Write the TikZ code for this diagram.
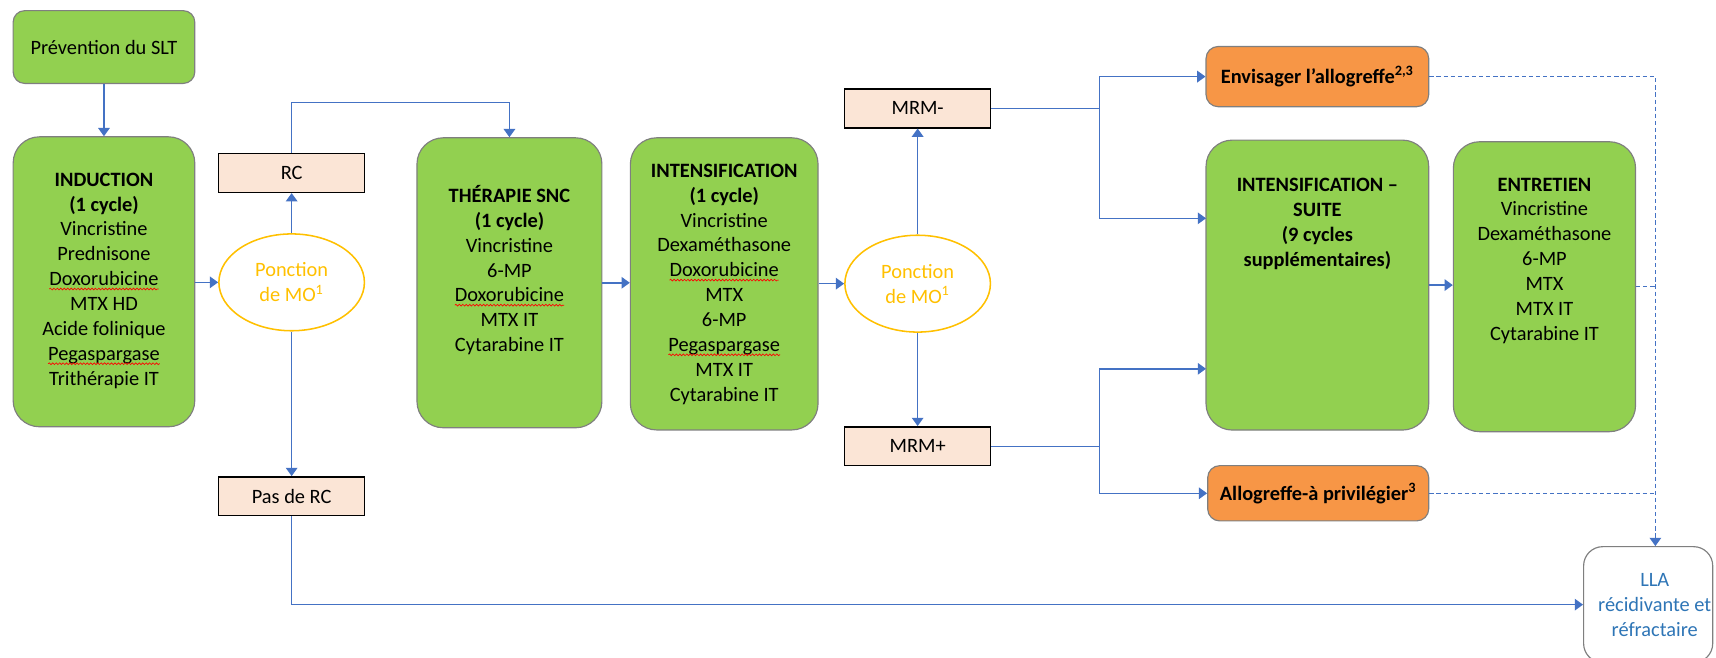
\documentclass[tikz,border=0pt]{standalone}
\usepackage{fontspec}
\setmainfont{Carlito}
\usetikzlibrary{arrows.meta,positioning,shapes.geometric,decorations.pathmorphing}

\definecolor{boxgreen}{HTML}{92D050}
\definecolor{boxorange}{HTML}{F79646}
\definecolor{boxpeach}{HTML}{FBE5D6}
\definecolor{ponyellow}{HTML}{FFC000}
\definecolor{linkblue}{HTML}{4472C4}
\definecolor{llablue}{HTML}{2E75B6}
\definecolor{edgegray}{HTML}{7F7F7F}

% red spell-check squiggle under a word
\newcommand{\spell}[1]{\tikz[baseline=(sw.base)]{\node[inner sep=0pt,outer sep=0pt,draw=none,fill=none] (sw) {#1};
  \draw[red,line width=0.35pt,decorate,decoration={snake,amplitude=0.45pt,segment length=1.8pt}] ([yshift=-1.7pt]sw.base west) -- ([yshift=-1.7pt]sw.base east);}}

\tikzset{
  txt/.style={font=\fontsize{10.6}{12.95}\selectfont, align=center, inner sep=0pt},
  txtb/.style={txt, font=\fontsize{10.6}{12.95}\selectfont\bfseries},
  greenbox/.style 2 args={draw=edgegray, line width=0.6pt, fill=boxgreen, rounded corners=0.48cm,
    minimum width=#1, minimum height=#2, inner sep=0pt},
  allobox/.style 2 args={draw=edgegray, line width=0.6pt, fill=boxorange, rounded corners=0.22cm,
    minimum width=#1, minimum height=#2, txtb},
  resbox/.style={draw=black, line width=0.8pt, fill=boxpeach, minimum width=2.67cm, minimum height=0.71cm, txt},
  ponc/.style={ellipse, draw=ponyellow, line width=0.8pt, fill=white, text=ponyellow,
    minimum width=2.66cm, minimum height=1.77cm, txt},
  llabox/.style={draw=edgegray, line width=0.6pt, fill=white, rounded corners=0.35cm,
    minimum width=2.36cm, minimum height=2.12cm, inner sep=0pt},
  link/.style={draw=linkblue, line width=0.75pt},
  arr/.style={link, -{Triangle[length=4.3pt,width=6pt]}},
  dsh/.style={link, dash pattern=on 2.2pt off 1.5pt},
}

\begin{document}
\begin{tikzpicture}[x=0.02cm, y=0.02cm]
  \useasboundingbox (0,0) rectangle (1568,601);
  \clip (0,0) rectangle (1568,601);

  % induction
  \node[greenbox={3.32cm}{1.33cm}, rounded corners=0.21cm, txt] (prev) at (95,558) {Prévention du SLT};
  \node[greenbox={3.32cm}{5.3cm}] (ind) at (95,343.5) {};
  \node[txt] (ind-t) at (95,344.5) {\textbf{INDUCTION}\\ \textbf{(1 cycle)}\\ Vincristine\\ Prednisone\\
    \spell{Doxorubicine}\\ MTX HD\\ Acide folinique\\ \spell{Pegaspargase}\\ Trithérapie IT};

  % first bone marrow check
  \node[ponc] (pon1) at (266.5,343) {Ponction\\ de MO\textsuperscript{1}};
  \node[resbox] (rc) at (266.5,443) {RC};
  \node[resbox] (pasrc) at (266.5,147.5) {Pas de RC};

  % CNS therapy and intensification
  \node[greenbox={3.38cm}{5.3cm}] (ther) at (465.5,342.6) {};
  \node[txt] (ther-t) at (465.5,354.2) {\textbf{THÉRAPIE SNC}\\ \textbf{(1 cycle)}\\ Vincristine\\ 6-MP\\
    \spell{Doxorubicine}\\ MTX IT\\ Cytarabine IT};
  \node[greenbox={3.43cm}{5.34cm}] (ints) at (661.75,341.6) {};
  \node[txt] (ints-t) at (661.75,341.25) {\textbf{INTENSIFICATION}\\ \textbf{(1 cycle)}\\ Vincristine\\ Dexaméthasone\\
    \spell{Doxorubicine}\\ MTX\\ 6-MP\\ \spell{Pegaspargase}\\ MTX IT\\ Cytarabine IT};

  % second bone marrow check, MRD
  \node[ponc] (pon2) at (838.5,341.8) {Ponction\\ de MO\textsuperscript{1}};
  \node[resbox] (mrmm) at (838.5,502) {MRM-};
  \node[resbox] (mrmp) at (838.5,193.25) {MRM+};

  % follow-up
  \node[allobox={4.07cm}{1.1cm}] (env) at (1203.75,531) {Envisager l’allogreffe\textsuperscript{2,3}};
  \node[greenbox={4.07cm}{5.3cm}] (suite) at (1203.75,340.5) {};
  \node[txtb] (suite-t) at (1203.75,396.2) {INTENSIFICATION –\\ SUITE\\ (9 cycles\\ supplémentaires)};
  \node[allobox={4.04cm}{1.01cm}] (allo) at (1204.5,150.25) {Allogreffe-à privilégier\textsuperscript{3}};
  \node[greenbox={3.33cm}{5.3cm}] (entr) at (1411.25,339) {};
  \node[txt] (entr-t) at (1411.25,362.7) {\textbf{ENTRETIEN}\\ Vincristine\\ Dexaméthasone\\ 6-MP\\ MTX\\ MTX IT\\ Cytarabine IT};
  \node[llabox] (lla) at (1506,48.5) {};
  \node[txt, text=llablue] (lla-t) at (1512,48.5) {LLA\\ récidivante et\\ réfractaire};

  % turning points
  \coordinate (rcup) at (266.5,507.5);
  \coordinate (brm) at (1004.6,502);
  \coordinate (brp) at (1004.6,193.25);
  \coordinate (suiteA) at (1102,401.5);
  \coordinate (suiteB) at (1102,264);
  \coordinate (dashx) at (1512.6,531);

  % connectors
  \draw[arr] (prev.south) -- (ind.north);
  \draw[arr] (pon1.west -| ind.east) -- (pon1.west);
  \draw[arr] (pon1.north) -- (rc.south);
  \draw[arr] (pon1.south) -- (pasrc.north);
  \draw[arr] (rc.north) -- (rcup) -| (ther.north);
  \draw[arr] (pasrc.south) |- (lla.west);
  \draw[arr] (ther.east) -- (ther.east -| ints.west);
  \draw[arr] (pon2.west -| ints.east) -- (pon2.west);
  \draw[arr] (pon2.north) -- (mrmm.south);
  \draw[arr] (pon2.south) -- (mrmp.north);
  \draw[link] (mrmm.east) -- (brm);
  \draw[link] (mrmp.east) -- (brp);
  \draw[arr] (brm) |- (env.west);
  \draw[arr] (brm) |- (suiteA);
  \draw[arr] (brp) |- (suiteB);
  \draw[arr] (brp) |- (allo.west);
  \draw[arr] (suite.east) -- (suite.east -| entr.west);

  % relapse links
  \foreach \b in {entr,allo} {\draw[dsh] (\b.east) -- (\b.east -| dashx);}
  \draw[dsh, -{Triangle[length=4.3pt,width=6pt]}] (env.east) -- (dashx) -- (dashx |- lla.north);
\end{tikzpicture}
\end{document}
